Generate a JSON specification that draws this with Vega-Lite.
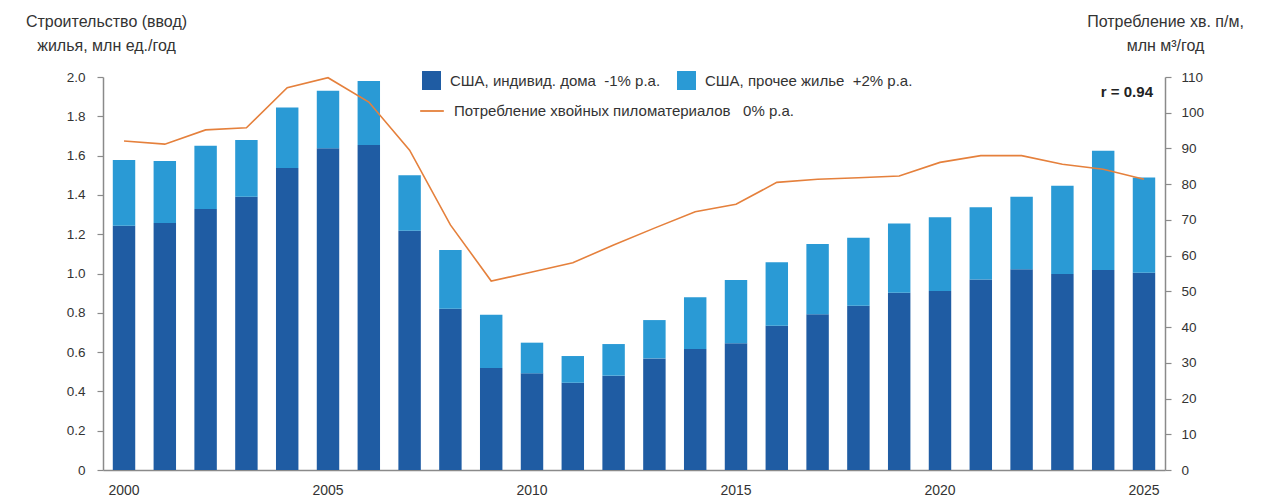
{
  "$schema": "https://vega.github.io/schema/vega-lite/v6.json",
  "width": 1062,
  "height": 393,
  "autosize": {"type": "none"},
  "padding": {"left": 103, "top": 77, "right": 112, "bottom": 30},
  "config": {
    "view": {"stroke": null},
    "font": "Liberation Sans",
    "axis": {"labelFont": "Liberation Sans", "labelFontSize": 13, "labelColor": "#333333", "titleFont": "Liberation Sans", "titleFontSize": 16, "titleFontWeight": "normal", "titleColor": "#333333", "domainColor": "#8a8a8a", "domainWidth": 1.5, "tickColor": "#8a8a8a", "tickWidth": 1.2, "grid": false},
    "legend": {"labelFont": "Liberation Sans", "labelFontSize": 15, "labelColor": "#333333", "labelLimit": 500}
  },
  "datasets": {
    "bars": [
      {"year": 2000, "series": "США, индивид. дома\u00a0 -1% р.а.", "value": 1.243},
      {"year": 2000, "series": "США, прочее жилье\u00a0 +2% р.а.", "value": 0.335},
      {"year": 2001, "series": "США, индивид. дома\u00a0 -1% р.а.", "value": 1.257},
      {"year": 2001, "series": "США, прочее жилье\u00a0 +2% р.а.", "value": 0.316},
      {"year": 2002, "series": "США, индивид. дома\u00a0 -1% р.а.", "value": 1.328},
      {"year": 2002, "series": "США, прочее жилье\u00a0 +2% р.а.", "value": 0.322},
      {"year": 2003, "series": "США, индивид. дома\u00a0 -1% р.а.", "value": 1.39},
      {"year": 2003, "series": "США, прочее жилье\u00a0 +2% р.а.", "value": 0.29},
      {"year": 2004, "series": "США, индивид. дома\u00a0 -1% р.а.", "value": 1.537},
      {"year": 2004, "series": "США, прочее жилье\u00a0 +2% р.а.", "value": 0.308},
      {"year": 2005, "series": "США, индивид. дома\u00a0 -1% р.а.", "value": 1.637},
      {"year": 2005, "series": "США, прочее жилье\u00a0 +2% р.а.", "value": 0.293},
      {"year": 2006, "series": "США, индивид. дома\u00a0 -1% р.а.", "value": 1.654},
      {"year": 2006, "series": "США, прочее жилье\u00a0 +2% р.а.", "value": 0.326},
      {"year": 2007, "series": "США, индивид. дома\u00a0 -1% р.а.", "value": 1.218},
      {"year": 2007, "series": "США, прочее жилье\u00a0 +2% р.а.", "value": 0.282},
      {"year": 2008, "series": "США, индивид. дома\u00a0 -1% р.а.", "value": 0.82},
      {"year": 2008, "series": "США, прочее жилье\u00a0 +2% р.а.", "value": 0.30},
      {"year": 2009, "series": "США, индивид. дома\u00a0 -1% р.а.", "value": 0.519},
      {"year": 2009, "series": "США, прочее жилье\u00a0 +2% р.а.", "value": 0.271},
      {"year": 2010, "series": "США, индивид. дома\u00a0 -1% р.а.", "value": 0.492},
      {"year": 2010, "series": "США, прочее жилье\u00a0 +2% р.а.", "value": 0.156},
      {"year": 2011, "series": "США, индивид. дома\u00a0 -1% р.а.", "value": 0.444},
      {"year": 2011, "series": "США, прочее жилье\u00a0 +2% р.а.", "value": 0.136},
      {"year": 2012, "series": "США, индивид. дома\u00a0 -1% р.а.", "value": 0.48},
      {"year": 2012, "series": "США, прочее жилье\u00a0 +2% р.а.", "value": 0.161},
      {"year": 2013, "series": "США, индивид. дома\u00a0 -1% р.а.", "value": 0.568},
      {"year": 2013, "series": "США, прочее жилье\u00a0 +2% р.а.", "value": 0.195},
      {"year": 2014, "series": "США, индивид. дома\u00a0 -1% р.а.", "value": 0.616},
      {"year": 2014, "series": "США, прочее жилье\u00a0 +2% р.а.", "value": 0.263},
      {"year": 2015, "series": "США, индивид. дома\u00a0 -1% р.а.", "value": 0.645},
      {"year": 2015, "series": "США, прочее жилье\u00a0 +2% р.а.", "value": 0.322},
      {"year": 2016, "series": "США, индивид. дома\u00a0 -1% р.а.", "value": 0.734},
      {"year": 2016, "series": "США, прочее жилье\u00a0 +2% р.а.", "value": 0.323},
      {"year": 2017, "series": "США, индивид. дома\u00a0 -1% р.а.", "value": 0.792},
      {"year": 2017, "series": "США, прочее жилье\u00a0 +2% р.а.", "value": 0.358},
      {"year": 2018, "series": "США, индивид. дома\u00a0 -1% р.а.", "value": 0.836},
      {"year": 2018, "series": "США, прочее жилье\u00a0 +2% р.а.", "value": 0.346},
      {"year": 2019, "series": "США, индивид. дома\u00a0 -1% р.а.", "value": 0.902},
      {"year": 2019, "series": "США, прочее жилье\u00a0 +2% р.а.", "value": 0.353},
      {"year": 2020, "series": "США, индивид. дома\u00a0 -1% р.а.", "value": 0.911},
      {"year": 2020, "series": "США, прочее жилье\u00a0 +2% р.а.", "value": 0.375},
      {"year": 2021, "series": "США, индивид. дома\u00a0 -1% р.а.", "value": 0.97},
      {"year": 2021, "series": "США, прочее жилье\u00a0 +2% р.а.", "value": 0.367},
      {"year": 2022, "series": "США, индивид. дома\u00a0 -1% р.а.", "value": 1.021},
      {"year": 2022, "series": "США, прочее жилье\u00a0 +2% р.а.", "value": 0.37},
      {"year": 2023, "series": "США, индивид. дома\u00a0 -1% р.а.", "value": 0.997},
      {"year": 2023, "series": "США, прочее жилье\u00a0 +2% р.а.", "value": 0.45},
      {"year": 2024, "series": "США, индивид. дома\u00a0 -1% р.а.", "value": 1.018},
      {"year": 2024, "series": "США, прочее жилье\u00a0 +2% р.а.", "value": 0.607},
      {"year": 2025, "series": "США, индивид. дома\u00a0 -1% р.а.", "value": 1.004},
      {"year": 2025, "series": "США, прочее жилье\u00a0 +2% р.а.", "value": 0.484}
    ],
    "lumber": [
      {"year": 2000, "lumber": 92.1},
      {"year": 2001, "lumber": 91.2},
      {"year": 2002, "lumber": 95.2},
      {"year": 2003, "lumber": 95.8},
      {"year": 2004, "lumber": 107.0},
      {"year": 2005, "lumber": 109.8},
      {"year": 2006, "lumber": 103.0},
      {"year": 2007, "lumber": 89.5},
      {"year": 2008, "lumber": 68.6},
      {"year": 2009, "lumber": 52.9},
      {"year": 2010, "lumber": 55.4},
      {"year": 2011, "lumber": 58.0},
      {"year": 2012, "lumber": 63.0},
      {"year": 2013, "lumber": 67.7},
      {"year": 2014, "lumber": 72.3},
      {"year": 2015, "lumber": 74.4},
      {"year": 2016, "lumber": 80.5},
      {"year": 2017, "lumber": 81.4},
      {"year": 2018, "lumber": 81.8},
      {"year": 2019, "lumber": 82.3},
      {"year": 2020, "lumber": 86.1},
      {"year": 2021, "lumber": 88.0},
      {"year": 2022, "lumber": 88.0},
      {"year": 2023, "lumber": 85.6},
      {"year": 2024, "lumber": 84.2},
      {"year": 2025, "lumber": 81.4}
    ],
    "note": [
      {"year": 2025, "pos": 1.924, "label": "r = 0.94"}
    ]
  },
  "encoding": {
    "x": {
      "field": "year",
      "type": "ordinal",
      "scale": {"paddingInner": 0.45, "paddingOuter": 0.24},
      "axis": {"title": null, "values": [2000, 2005, 2010, 2015, 2020, 2025], "ticks": false, "labelAngle": 0, "labelPadding": 13, "labelFontSize": 14}
    }
  },
  "layer": [
    {
      "data": {"name": "bars"},
      "mark": {"type": "bar"},
      "encoding": {
        "y": {
          "field": "value",
          "type": "quantitative",
          "stack": "zero",
          "scale": {"domain": [0, 2]},
          "axis": {
            "values": [0, 0.2, 0.4, 0.6, 0.8, 1.0, 1.2, 1.4, 1.6, 1.8, 2.0],
            "labelExpr": "datum.value == 0 ? '0' : format(datum.value, '.1f')",
            "tickSize": 6,
            "labelPadding": 12,
            "labelFontSize": 13.5,
            "title": ["Строительство (ввод)", "жилья, млн ед./год"],
            "titleAngle": 0,
            "titleX": 3,
            "titleY": -64,
            "titleAlign": "center",
            "titleBaseline": "top",
            "titleLineHeight": 24
          }
        },
        "fill": {
          "field": "series",
          "type": "nominal",
          "scale": {"domain": ["США, индивид. дома\u00a0 -1% р.а.", "США, прочее жилье\u00a0 +2% р.а."], "range": ["#1f5ca3", "#2a9ad5"]},
          "legend": {"title": null, "orient": "none", "legendX": 319, "legendY": -6, "direction": "horizontal", "symbolType": "square", "symbolSize": 360, "symbolStrokeWidth": 0, "columnPadding": 16, "labelOffset": 9, "padding": 0}
        },
        "order": {"field": "series", "sort": "ascending"}
      }
    },
    {
      "data": {"name": "lumber"},
      "mark": {"type": "line", "strokeWidth": 1.6},
      "encoding": {
        "y": {
          "field": "lumber",
          "type": "quantitative",
          "scale": {"domain": [0, 110]},
          "axis": {
            "orient": "right",
            "values": [0, 10, 20, 30, 40, 50, 60, 70, 80, 90, 100, 110],
            "tickSize": 6,
            "labelPadding": 10,
            "labelFontSize": 13.5,
            "title": ["Потребление хв. п/м,", "млн м³/год"],
            "titleAngle": 0,
            "titleX": 0,
            "titleY": -64,
            "titleAlign": "center",
            "titleBaseline": "top",
            "titleLineHeight": 24
          }
        },
        "stroke": {
          "datum": "Потребление хвойных пиломатериалов\u00a0\u00a0 0% р.а.",
          "type": "nominal",
          "scale": {"range": ["#e5803c"]},
          "legend": {"title": null, "orient": "none", "legendX": 316, "legendY": 21, "symbolType": "stroke", "symbolSize": 560, "symbolStrokeWidth": 1.8, "labelOffset": 9, "padding": 0}
        }
      }
    },
    {
      "data": {"name": "note"},
      "mark": {"type": "text", "align": "right", "dx": 9, "fontWeight": "bold", "fontSize": 15, "color": "#222222", "baseline": "middle"},
      "encoding": {
        "y": {"field": "pos", "type": "quantitative", "scale": {"domain": [0, 2]}, "axis": null},
        "text": {"field": "label"}
      }
    }
  ],
  "resolve": {"scale": {"y": "independent", "fill": "independent", "stroke": "independent"}}
}
